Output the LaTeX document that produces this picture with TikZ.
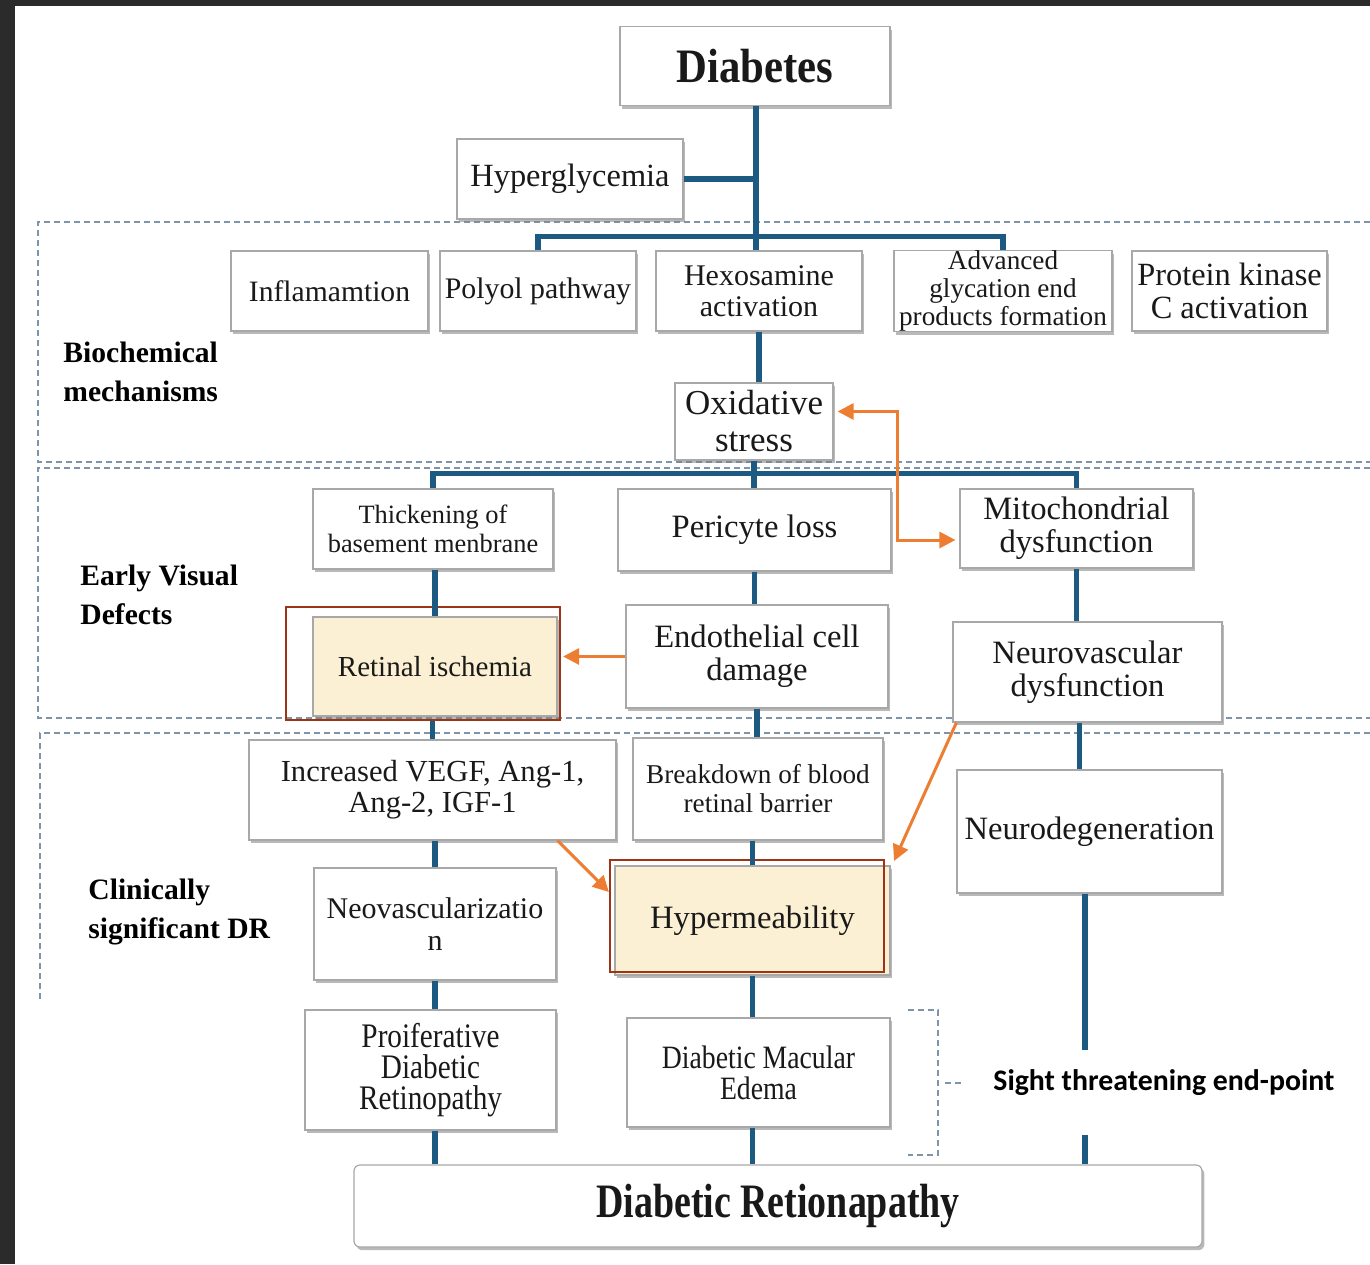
\documentclass[tikz,border=0pt]{standalone}
\usepackage{fontspec}
\setmainfont{Liberation Serif}
\newfontfamily\sqA{Liberation Serif}[FakeStretch=0.89]
\newfontfamily\sqB{Liberation Serif}[FakeStretch=0.79]
\newfontfamily\sqC{Liberation Serif}[FakeStretch=0.85]
\newfontfamily\sansbold{Carlito}[BoldFont=* Bold]
\usetikzlibrary{arrows.meta,shadows,calc}
\newcommand\fsz[2]{\fontsize{#1}{#2}\selectfont}
\definecolor{connblue}{HTML}{1D5A82}
\definecolor{oarrow}{HTML}{ED7D31}
\definecolor{hlframe}{HTML}{9B3516}
\definecolor{cream}{HTML}{FCF0D4}
\definecolor{dashc}{HTML}{7F94A8}
\definecolor{boxline}{HTML}{A8A8A8}
\definecolor{bgdark}{HTML}{2B2B2B}
\begin{document}
\begin{tikzpicture}[x=0.5pt,y=-0.5pt,
  sz/.style 2 args={minimum width=#1*0.5pt,minimum height=#2*0.5pt},
  box/.style={draw=boxline,line width=0.6pt,fill=white,align=center,inner sep=0pt,text=black!90,
     drop shadow={shadow xshift=1.2pt,shadow yshift=-1.6pt,fill=black!50,opacity=0.55}},
  hlbox/.style={box,fill=cream},
  hlframe/.style={draw=hlframe,line width=1.1pt,inner sep=0pt},
  conn/.style={draw=connblue,line width=2.6pt},
  oarr/.style={draw=oarrow,line width=1.5pt,arrows={-Triangle[length=8pt,width=8pt]}},
  region/.style={draw=dashc,line width=0.7pt,dash pattern=on 3pt off 2pt},
  lbl/.style={anchor=west,align=left,inner sep=0pt,font=\bfseries\fsz{14.8}{19.5}}
]
% background
\fill[bgdark] (0,0) rectangle (1370,1264);
\fill[white] (15,6) rectangle (1370,1264);
\useasboundingbox (0,0) rectangle (1370,1264);

% dashed regions
\draw[region] (1370,222) -- (38,222) -- (38,462) -- (1370,462);
\draw[region] (1370,468) -- (38,468) -- (38,718) -- (1370,718);
\draw[region] (1370,733) -- (40,733) -- (40,1000);

% region labels
\node[lbl] (lbio) at (63,372) {Biochemical\\mechanisms};
\node[lbl] (lev) at (80,595) {Early Visual\\Defects};
\node[lbl] (lcs) at (88,912) {Clinically\\significant DR};

% nodes
\node[box,sz={270}{79},font=\sqA\bfseries\fsz{24}{26}] (diab) at (755,66) {Diabetes};
\node[box,sz={226}{80},font=\fsz{16.2}{18}] (hyper) at (570,179) {Hyperglycemia};

\node[box,sz={197}{80},font=\fsz{14.8}{16}] (infl) at (329.5,291) {Inflamamtion};
\node[box,sz={196}{80},font=\fsz{14.9}{16}] (polyol) at (538,291) {Polyol pathway};
\node[box,sz={206}{80},font=\fsz{15}{15.5}] (hexo) at (759,291) {Hexosamine\\activation};
\node[box,sz={218}{80},font=\fsz{13.6}{14}] (age) at (1003,291) {Advanced\\glycation end\\products formation};
\node[box,sz={195}{80},font=\fsz{16.2}{16.5}] (pkc) at (1229.5,291) {Protein kinase\\C activation};
\node[box,sz={158}{77},font=\fsz{17.5}{18.5}] (oxid) at (754,421.5) {Oxidative\\stress};

\node[box,sz={240}{80},font=\fsz{13.2}{14.5}] (thick) at (433,529) {Thickening of\\basement menbrane};
\node[box,sz={273}{82},font=\fsz{16.3}{17}] (peri) at (754.5,530) {Pericyte loss};
\node[box,sz={233}{79},font=\fsz{16.3}{16.5}] (mito) at (1076.5,528.5) {Mitochondrial\\dysfunction};

\node[hlbox,sz={244}{99},font=\fsz{14.5}{16}] (retis) at (435,666.5) {Retinal ischemia};
\node[hlframe,sz={274}{113}] (retisf) at (423,663.5) {};
\node[box,sz={262}{103},font=\fsz{16.3}{16.5}] (endo) at (757,656.5) {Endothelial cell\\damage};
\node[box,sz={269}{100},font=\fsz{16.3}{16.5}] (neuro) at (1087.5,672) {Neurovascular\\dysfunction};

\node[box,sz={367}{100},font=\fsz{15.3}{15.5}] (vegf) at (432.5,790) {Increased VEGF, Ang-1,\\Ang-2, IGF-1};
\node[box,sz={250}{102},font=\fsz{13.6}{14.5}] (brk) at (758,789) {Breakdown of blood\\retinal barrier};
\node[box,sz={265}{123},font=\fsz{16.3}{17}] (neurod) at (1089.5,831.5) {Neurodegeneration};

\node[box,sz={242}{112},font=\fsz{15}{16}] (neov) at (435,924) {Neovascularizatio\\n};
\node[hlbox,sz={275}{109},font=\fsz{16.3}{17}] (hyperm) at (752.5,920.5) {Hypermeability};
\node[hlframe,sz={274}{112}] (hypermf) at (747,916) {};

\node[box,sz={251}{120},font=\sqC\fsz{17.2}{15.5}] (pdr) at (430.5,1070) {Proiferative\\Diabetic\\Retinopathy};
\node[box,sz={263}{109},font=\sqC\fsz{16.3}{15.5}] (dme) at (758.5,1072.5) {Diabetic Macular\\Edema};
\node[box,sz={848}{82},rounded corners=3pt,font=\sqB\bfseries\fsz{24}{26}] (dr) at (778,1206) {Diabetic Retionapathy};

\node[anchor=west,inner sep=0pt,font=\sansbold\bfseries\fsz{14.9}{16}] (sight) at (993,1083) {Sight threatening end-point};

% blue connectors
\draw[conn] ([xshift=0.5pt]diab.south) -- ([xshift=0.5pt]diab.south |- hexo.north);
\draw[conn] (hyper.east) -- ([xshift=0.5pt]diab.south |- hyper.east);
\draw[conn] (polyol.north) -- ++(0,-14) -| (age.north);
\draw[conn] (hexo.south) -- (hexo.south |- oxid.north);
\draw[conn] (thick.north) -- ++(0,-15) -| (mito.north);
\draw[conn] (oxid.south) -- (oxid.south |- peri.north);
\draw[conn] (retis.north |- thick.south) -- (retis.north);
\draw[conn] (peri.south) -- (peri.south |- endo.north);
\draw[conn] (mito.south) -- (mito.south |- neuro.north);
\draw[conn] (vegf.north |- retisf.south) -- (vegf.north);
\draw[conn] (endo.south) -- (endo.south |- brk.north);
\draw[conn] ([xshift=-4pt]neuro.south) -- ([xshift=-4pt]neuro.south |- neurod.north);
\draw[conn] (neov.north |- vegf.south) -- (neov.north);
\draw[conn] (hyperm.north |- brk.south) -- (hyperm.north);
\draw[conn] (neov.south) -- (neov.south |- pdr.north);
\draw[conn] (neov.south |- pdr.south) -- (neov.south |- dr.north);
\draw[conn] (hyperm.south) -- (hyperm.south |- dme.north);
\draw[conn] (hyperm.south |- dme.south) -- (hyperm.south |- dr.north);
\coordinate (g1) at (1085,1050);
\coordinate (g2) at (1085,1135);
\draw[conn] (g1 |- neurod.south) -- (g1);
\draw[conn] (g2) -- (g2 |- dr.north);

% orange arrows
\coordinate (o2) at (897,540);
\draw[oarr,arrows={Triangle[length=8pt,width=8pt]-Triangle[length=8pt,width=8pt]},shorten <=2pt,shorten >=2pt]
  ([yshift=5pt]oxid.east) -| (o2) -- (o2 -| mito.west);
\draw[oarr,shorten >=1pt] (endo.west) -- (retisf.east |- endo.west);
\draw[oarr] ([xshift=-29.5pt]vegf.south east) -- ([yshift=12pt]hypermf.west);
\draw[oarr] ([xshift=2pt]neuro.south west) -- ([xshift=4.5pt,yshift=-1pt]hypermf.north east);

% bracket
\coordinate (k1) at (908,1010);
\coordinate (k2) at (938,1010);
\coordinate (k3) at (938,1155);
\coordinate (k4) at (908,1155);
\coordinate (k5) at (945,1083);
\coordinate (k6) at (963,1083);
\draw[region,line width=0.9pt] (k1) -- (k2) -- (k3) -- (k4);
\draw[region,line width=0.9pt] (k5) -- (k6);
\end{tikzpicture}
\end{document}
